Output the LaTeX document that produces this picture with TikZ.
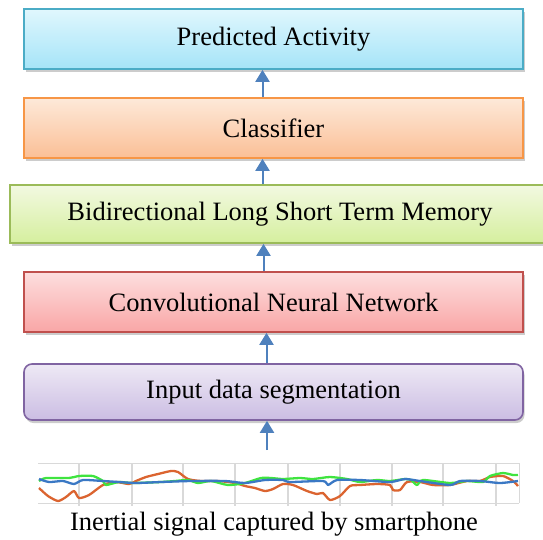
\documentclass[tikz,border=0pt]{standalone}
\usepackage{fontspec}
\setmainfont{Liberation Serif}
\usepackage{tikz}
\usetikzlibrary{arrows.meta,shadows}

\definecolor{arrowblue}{HTML}{4F81BD}
\definecolor{gridgray}{HTML}{D9D9D9}
\definecolor{sigorange}{HTML}{DB6430}
\definecolor{siggreen}{HTML}{3FE43F}
\definecolor{sigblue}{HTML}{3A78C4}
\definecolor{predline}{HTML}{4BACC6}
\definecolor{predtop}{HTML}{E0F7FD}
\definecolor{predbot}{HTML}{A5E4F8}
\definecolor{clsline}{HTML}{F79646}
\definecolor{clstop}{HTML}{FDE9D9}
\definecolor{clsbot}{HTML}{FBBF96}
\definecolor{lstmline}{HTML}{9BBB59}
\definecolor{lstmtop}{HTML}{F2F9E1}
\definecolor{lstmbot}{HTML}{D5EF9E}
\definecolor{cnnline}{HTML}{C0504D}
\definecolor{cnntop}{HTML}{FDDEDE}
\definecolor{cnnbot}{HTML}{F9A6A6}
\definecolor{segline}{HTML}{8064A2}
\definecolor{segtop}{HTML}{EEE9F5}
\definecolor{segbot}{HTML}{CBBDE3}

\tikzset{
  layer/.style={draw, line width=1.6pt, minimum width=499pt, minimum height=60pt,
    inner sep=0pt, font=\fontsize{26.5}{30}\selectfont,
    drop shadow={shadow xshift=1.5pt, shadow yshift=-3pt, opacity=.2, fill=black}},
  flow/.style={arrowblue, line width=2pt, -{Triangle[width=14pt,length=12pt]}},
  sig/.style={line width=2.3pt, line join=round, smooth, tension=.4}
}

\begin{document}
\begin{tikzpicture}[x=1pt,y=-1pt]
\useasboundingbox (0,0) rectangle (543,539);
\clip (0,0) rectangle (543,539);

% draw layers
\node[layer, draw=predline, top color=predtop, bottom color=predbot]
  (pred) at (273.5,39) {Predicted Activity};
\node[layer, draw=clsline, top color=clstop, bottom color=clsbot]
  (cls) at (273.5,128) {Classifier};
\node[layer, draw=lstmline, top color=lstmtop, bottom color=lstmbot,
  minimum width=540pt, minimum height=58pt] (lstm) at (280,214) {Bidirectional Long Short Term Memory};
\node[layer, draw=cnnline, top color=cnntop, bottom color=cnnbot]
  (cnn) at (273.5,302) {Convolutional Neural Network};
\node[layer, draw=segline, top color=segtop, bottom color=segbot,
  minimum height=56pt, rounded corners=8pt] (seg) at (273.5,392) {Input data segmentation};

% draw signal grid
\draw[gridgray, line width=.8pt] (38,463) -- (519,463) -- (519,503) (38,503) -- (519,503);
\foreach \x in {79,132,183,235,288,340,392,443,496}
  \draw[gridgray, line width=1.6pt] (\x,463) -- (\x,506);

% draw signal traces
\draw[sig, sigorange] plot coordinates {(39,488) (48,496) (58,501) (66,497) (74,491) (79,498)
  (89,495) (103,485) (116,482) (129,484) (136,481) (146,477) (158,474) (171,471) (178,472)
  (188,479) (201,481) (218,481) (235,483) (245,486) (255,488) (265,491) (273,489) (283,484)
  (293,485) (307,491) (317,494) (323,493) (330,500) (340,496) (350,486) (360,485) (377,484)
  (390,485) (393,490) (400,490) (407,482) (420,482) (433,485) (450,485) (467,481) (480,481)
  (490,477) (503,476) (513,481) (518,486)};
\draw[sig, siggreen] plot coordinates {(39,481) (46,478) (69,478) (79,476) (93,476) (103,481)
  (106,485) (119,482) (133,483) (161,482) (175,481) (188,480) (198,483) (211,481) (228,485)
  (245,483) (261,478) (271,478) (283,479) (300,478) (313,479) (330,477) (347,479) (360,482)
  (377,480) (390,481) (405,479) (411,480) (417,485) (423,480) (450,483) (467,481) (483,482)
  (490,476) (503,473) (513,475) (518,475)};
\draw[sig, sigblue] plot coordinates {(39,479) (49,482) (63,481) (74,484) (83,480) (103,481)
  (119,482) (136,483) (161,482) (191,481) (225,481) (245,483) (265,480) (283,480) (290,482)
  (323,481) (328,485) (337,480) (360,480) (390,482) (405,479) (420,481) (450,485) (460,481)
  (480,481) (500,483) (518,481)};
\coordinate (sigtop) at (267,450);
\node[font=\fontsize{26.5}{30}\selectfont] (caption) at (274,524) {Inertial signal captured by smartphone};

% draw arrows
\draw[flow] (sigtop) -- (sigtop |- seg.south);
\draw[flow] ([xshift=-7pt]seg.north) -- ([xshift=-7pt]cnn.south);
\draw[flow] ([xshift=-10pt]cnn.north) -- ([xshift=-10pt]cnn.north |- lstm.south);
\draw[flow] ([xshift=-11pt]cls.south |- lstm.north) -- ([xshift=-11pt]cls.south);
\draw[flow] ([xshift=-11pt]cls.north) -- ([xshift=-11pt]pred.south);
\end{tikzpicture}
\end{document}
